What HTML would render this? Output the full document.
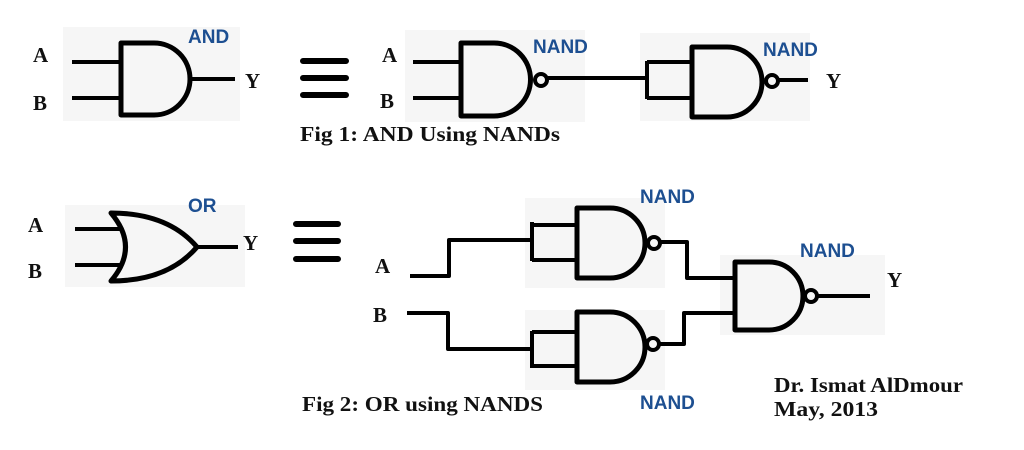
<!DOCTYPE html>
<html><head><meta charset="utf-8"><style>
html,body{margin:0;padding:0;background:#fff;}
svg{display:block;}
.t{font-family:"Liberation Serif",serif;font-weight:bold;fill:#111;}
.n{font-family:"Liberation Sans",sans-serif;font-weight:bold;fill:#1d4f91;font-size:19px;}
</style></head><body>
<svg width="1024" height="450" viewBox="0 0 1024 450" xmlns="http://www.w3.org/2000/svg">
<rect width="1024" height="450" fill="#fff"/>
<g fill="#f6f6f6">
<rect x="63" y="27" width="177" height="94"/>
<rect x="405" y="30" width="180" height="92"/>
<rect x="640" y="33" width="170" height="88"/>
<rect x="65" y="205" width="180" height="82"/>
<rect x="525" y="198" width="140" height="90"/>
<rect x="525" y="310" width="140" height="80"/>
<rect x="720" y="255" width="165" height="80"/>
</g>
<g stroke="#000" stroke-width="4" fill="none" stroke-linejoin="round">
<path d="M72,62H121M72,98H121M188,79H235"/>
<path d="M121,43H154A36,36 0 0 1 154,115H121Z" stroke-width="5"/>
<path d="M303,61H346M303,78H346M303,95H346" stroke-width="6" stroke-linecap="round"/>
<path d="M413,62H461M413,98H461"/>
<path d="M461,43H494A36,36 0 0 1 494,116H461Z" stroke-width="5"/>
<circle cx="541" cy="80" r="6"/>
<path d="M548,78H647M647,61V99M647,62H692M647,98H692"/>
<path d="M692,47H727A35,35 0 0 1 727,117H692Z" stroke-width="5"/>
<circle cx="772" cy="81" r="6"/>
<path d="M779,80H808"/>
<path d="M75,229H122M75,265H122M197,247H238"/>
<path d="M111,213Q140,247 111,281Q168,281 197,247Q168,213 111,213Z" stroke-width="5"/>
<path d="M296,224H338M296,241H338M296,259H338" stroke-width="6" stroke-linecap="round"/>
<path d="M410,276H449V240H532M532,222V261M532,225H577M532,260H577" />
<path d="M407,313H448V349H532M532,331V368M532,332H577M532,366H577"/>
<path d="M577,208H610A35,35 0 0 1 610,278H577Z" stroke-width="5"/>
<circle cx="654" cy="243" r="6"/>
<path d="M661,242H687V278H735"/>
<path d="M577,312H610A35,35 0 0 1 610,382H577Z" stroke-width="5"/>
<circle cx="653" cy="344" r="6"/>
<path d="M660,344H684V313H735"/>
<path d="M735,262H769A34,34 0 0 1 769,330H735Z" stroke-width="5"/>
<circle cx="811" cy="296" r="6"/>
<path d="M818,296H870"/>
</g>
<g class="t" font-size="21">
<text x="33" y="62">A</text><text x="33" y="110">B</text><text x="245" y="88">Y</text>
<text x="382" y="62">A</text><text x="380" y="108">B</text><text x="826" y="88">Y</text>
<text x="28" y="232">A</text><text x="28" y="278">B</text><text x="243" y="250">Y</text>
<text x="375" y="273">A</text><text x="373" y="322">B</text><text x="887" y="287">Y</text>
</g>
<g class="n">
<text x="188" y="43">AND</text>
<text x="533" y="53">NAND</text>
<text x="763" y="56">NAND</text>
<text x="188" y="212">OR</text>
<text x="640" y="203">NAND</text>
<text x="800" y="257">NAND</text>
<text x="640" y="409">NAND</text>
</g>
<g class="t" font-size="21">
<text x="300" y="141" textLength="260" lengthAdjust="spacingAndGlyphs">Fig 1:  AND Using NANDs</text>
<text x="302" y="411" textLength="241" lengthAdjust="spacingAndGlyphs">Fig 2: OR using NANDS</text>
<text x="774" y="392" textLength="189" lengthAdjust="spacingAndGlyphs">Dr. Ismat AlDmour</text>
<text x="774" y="416" textLength="104" lengthAdjust="spacingAndGlyphs">May, 2013</text>
</g>
</svg>
</body></html>
